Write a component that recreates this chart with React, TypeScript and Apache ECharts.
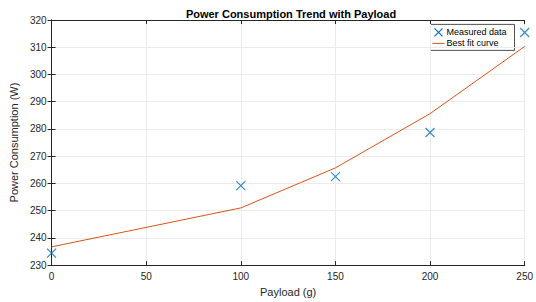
import React, { useEffect, useRef } from "react";
import * as echarts from "echarts";

const payload = [0, 100, 150, 200, 250];
const measured = [234.4, 259.2, 262.5, 278.7, 315.4];
const fitPayload = [0, 100, 150, 200, 250];
const fitPower = [236.7, 251.0, 265.7, 285.6, 310.3];
const xTicks = [0, 50, 100, 150, 200, 250];
const yTicks = [230, 240, 250, 260, 270, 280, 290, 300, 310, 320];

const FONT = "Liberation Sans, Arial, sans-serif";
const AX = "#262626";

export default function App() {
  const ref = useRef<HTMLDivElement>(null);
  useEffect(() => {
    const chart = echarts.init(ref.current!, null, { renderer: "svg" });
    const baseX = {
      type: "value",
      min: xTicks[0],
      max: xTicks[xTicks.length - 1],
      interval: 50,
    };
    const baseY = {
      type: "value",
      min: yTicks[0],
      max: yTicks[yTicks.length - 1],
      interval: 10,
    };
    chart.setOption({
      animation: false,
      backgroundColor: "#ffffff",
      textStyle: { fontFamily: FONT },
      title: {
        text: "Power Consumption Trend with Payload",
        left: 286,
        textAlign: "center",
        top: 3,
        textStyle: { fontSize: 11, fontWeight: "bold", color: "#000", fontFamily: FONT },
      },
      grid: { left: 45, right: 9, top: 20, bottom: 33, containLabel: false },
      xAxis: [
        {
          ...baseX,
          position: "bottom",
          name: "Payload (g)",
          nameLocation: "middle",
          nameGap: 20,
          nameTextStyle: { fontSize: 11, color: AX, fontFamily: FONT },
          axisLine: { show: true, lineStyle: { color: AX, width: 1 } },
          axisTick: { show: true, inside: true, length: 4, lineStyle: { color: AX } },
          axisLabel: { color: AX, fontSize: 10, margin: 6, fontFamily: FONT },
          splitLine: { show: true, lineStyle: { color: "#ebebeb", width: 1 } },
        },
        {
          ...baseX,
          position: "top",
          axisLine: { show: true, lineStyle: { color: AX, width: 1 } },
          axisTick: { show: true, inside: true, length: 4, lineStyle: { color: AX } },
          axisLabel: { show: false },
          splitLine: { show: false },
        },
      ],
      yAxis: [
        {
          ...baseY,
          position: "left",
          name: "Power Consumption (W)",
          nameLocation: "middle",
          nameGap: 25,
          nameTextStyle: { fontSize: 11, color: AX, fontFamily: FONT },
          axisLine: { show: true, lineStyle: { color: AX, width: 1 } },
          axisTick: { show: true, inside: true, length: 4, lineStyle: { color: AX } },
          axisLabel: { color: AX, fontSize: 10, margin: 5, fontFamily: FONT },
          splitLine: { show: true, lineStyle: { color: "#ebebeb", width: 1 } },
        },
        {
          ...baseY,
          position: "right",
          axisLine: { show: true, lineStyle: { color: AX, width: 1 } },
          axisTick: { show: true, inside: true, length: 4, lineStyle: { color: AX } },
          axisLabel: { show: false },
          splitLine: { show: false },
        },
      ],
      series: [
        {
          name: "Best fit curve",
          type: "line",
          data: fitPayload.map((x, i) => [x, fitPower[i]]),
          symbol: "none",
          lineStyle: { color: "#D95319", width: 1 },
          z: 2,
        },
        {
          name: "Measured data",
          type: "scatter",
          data: payload.map((x, i) => [x, measured[i]]),
          symbol: "path://M0,0L10,10M10,0L0,10",
          symbolSize: 9,
          itemStyle: { color: "rgba(0,0,0,0)", borderColor: "#0072BD", borderWidth: 1.2 },
          z: 3,
        },
      ],
      graphic: [
        {
          type: "group",
          left: 430,
          top: 24,
          z: 100,
          children: [
            {
              type: "rect",
              shape: { x: 0, y: 0, width: 84, height: 26 },
              style: { fill: "#ffffff", stroke: "#262626", lineWidth: 0.8 },
            },
            {
              type: "polyline",
              shape: { points: [[4, 4], [12, 12]] },
              style: { stroke: "#0072BD", lineWidth: 1.2, fill: null },
            },
            {
              type: "polyline",
              shape: { points: [[12, 4], [4, 12]] },
              style: { stroke: "#0072BD", lineWidth: 1.2, fill: null },
            },
            {
              type: "text",
              x: 16,
              y: 8,
              style: { text: "Measured data", fontSize: 9, fill: "#000", fontFamily: FONT, verticalAlign: "middle" },
            },
            {
              type: "line",
              shape: { x1: 2, y1: 19, x2: 14, y2: 19 },
              style: { stroke: "#D95319", lineWidth: 1 },
            },
            {
              type: "text",
              x: 16,
              y: 19,
              style: { text: "Best fit curve", fontSize: 9, fill: "#000", fontFamily: FONT, verticalAlign: "middle" },
            },
          ],
        },
      ],
    });
    return () => chart.dispose();
  }, []);
  return <div ref={ref} style={{ width: 536, height: 302, position: "absolute", left: 0, top: 0 }} />;
}
